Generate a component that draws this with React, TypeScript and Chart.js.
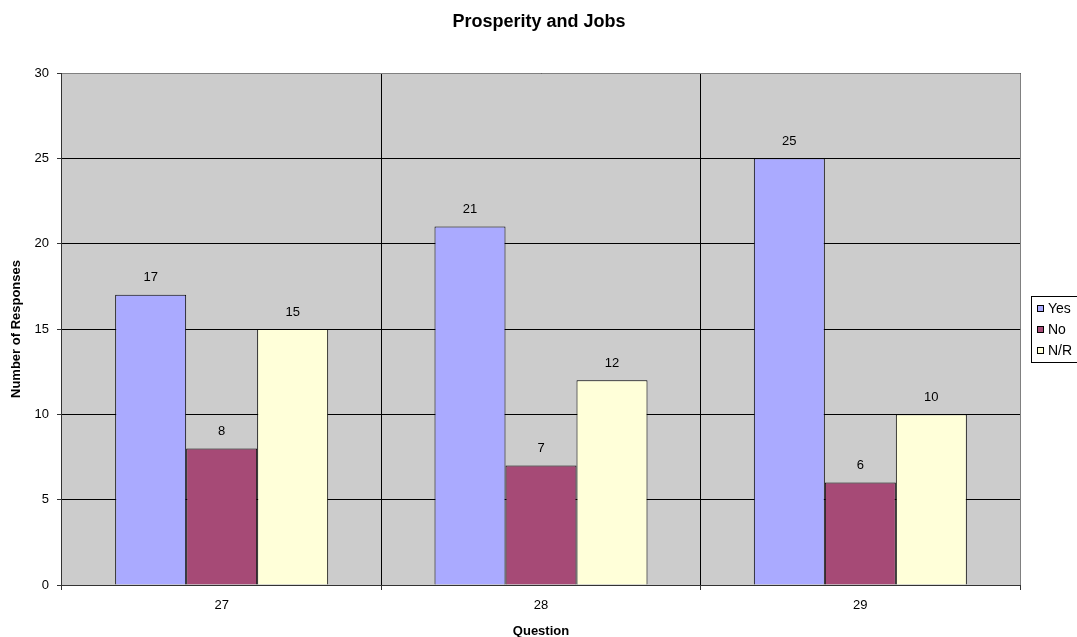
import React, { useEffect, useRef } from "react";
import { Chart, registerables } from "chart.js";

Chart.register(...registerables);

const categories = ["27", "28", "29"];
const yesValues = [17, 21, 25];
const noValues = [8, 7, 6];
const nrValues = [15, 12, 10];
const seriesNames = ["Yes", "No", "N/R"];
const seriesColors = ["#AAAAFF", "#A64A76", "#FFFFD9"];

const FONT = "'Liberation Sans', Arial, sans-serif";

const decorPlugin = {
  id: "decor",
  beforeDraw(chart: any) {
    const { ctx, chartArea } = chart;
    ctx.save();
    ctx.fillStyle = "#CCCCCC";
    ctx.fillRect(chartArea.left, chartArea.top, chartArea.right - chartArea.left, chartArea.bottom - chartArea.top);
    ctx.restore();
  },
  afterDraw(chart: any) {
    const { ctx, chartArea } = chart;
    ctx.save();
    // plot border
    ctx.strokeStyle = "#808080";
    ctx.lineWidth = 1;
    ctx.beginPath();
    ctx.moveTo(chartArea.left, chartArea.top + 0.5);
    ctx.lineTo(chartArea.right + 0.5, chartArea.top + 0.5);
    ctx.lineTo(chartArea.right + 0.5, chartArea.bottom);
    ctx.stroke();
    ctx.strokeStyle = "#333333";
    ctx.beginPath();
    ctx.moveTo(chartArea.left - 0.5, chartArea.top);
    ctx.lineTo(chartArea.left - 0.5, chartArea.bottom + 0.5);
    ctx.lineTo(chartArea.right + 0.5, chartArea.bottom + 0.5);
    ctx.stroke();

    // data labels
    ctx.fillStyle = "#000";
    ctx.font = `13px ${FONT}`;
    ctx.textAlign = "center";
    ctx.textBaseline = "middle";
    chart.data.datasets.forEach((ds: any, di: number) => {
      const meta = chart.getDatasetMeta(di);
      meta.data.forEach((bar: any, i: number) => {
        ctx.fillText(String(ds.data[i]), bar.x, bar.y - 17);
      });
    });

    // title
    ctx.font = `bold 18px ${FONT}`;
    ctx.fillText("Prosperity and Jobs", 539, 22);

    // legend
    const lx = 1031;
    const ly = 296;
    ctx.fillStyle = "#FFFFFF";
    ctx.fillRect(lx, ly, 60, 66);
    ctx.strokeStyle = "#000";
    ctx.strokeRect(lx + 0.5, ly + 0.5, 60, 66);
    ctx.font = `14px ${FONT}`;
    ctx.textAlign = "left";
    seriesNames.forEach((name, i) => {
      const cy = 308 + i * 21;
      ctx.fillStyle = seriesColors[i];
      ctx.fillRect(1037, cy - 3, 7, 7);
      ctx.strokeStyle = "#000";
      ctx.strokeRect(1037.5, cy - 3 + 0.5, 6, 6);
      ctx.fillStyle = "#000";
      ctx.fillText(name, 1048, cy + 1);
    });
    ctx.restore();
  },
};

export default function App() {
  const ref = useRef<HTMLCanvasElement>(null);
  useEffect(() => {
    const chart = new Chart(ref.current!, {
      type: "bar",
      data: {
        labels: categories,
        datasets: [
          { label: seriesNames[0], data: yesValues, backgroundColor: seriesColors[0], borderColor: "#000", borderWidth: 1 },
          { label: seriesNames[1], data: noValues, backgroundColor: seriesColors[1], borderColor: "#000", borderWidth: 1 },
          { label: seriesNames[2], data: nrValues, backgroundColor: seriesColors[2], borderColor: "#000", borderWidth: 1 },
        ],
      },
      options: {
        animation: false,
        responsive: false,
        devicePixelRatio: 1,
        layout: { padding: { top: 73, right: 57, left: 0, bottom: 0 } },
        datasets: { bar: { categoryPercentage: 0.667, barPercentage: 1 } },
        plugins: { legend: { display: false }, title: { display: false }, tooltip: { enabled: false } },
        scales: {
          x: {
            afterFit: (s: any) => { s.height = 52; },
            grid: {
              offset: true,
              color: (c: any) => (c.index === 0 || c.index === 3 ? "rgba(0,0,0,0)" : "#000"),
              tickLength: 5,
              tickColor: "#333",
              drawTicks: true,
            },
            border: { display: false },
            ticks: { color: "#000", font: { family: FONT, size: 13 }, padding: 8 },
            title: { display: true, text: "Question", color: "#000", font: { family: FONT, size: 13, weight: "bold" }, padding: { top: 4, bottom: -2 } },
          },
          y: {
            min: 0,
            max: 30,
            afterFit: (s: any) => { s.width = 62; },
            ticks: { stepSize: 5, color: "#000", font: { family: FONT, size: 13 }, padding: 8 },
            grid: {
              color: (c: any) => (c.index === 0 ? "rgba(0,0,0,0)" : "#000"),
              tickLength: 5,
              tickColor: "#333",
            },
            border: { display: false },
            title: { display: true, text: "Number of Responses", color: "#000", font: { family: FONT, size: 13, weight: "bold" }, padding: { top: 9, bottom: 0 } },
          },
        },
      },
      plugins: [decorPlugin],
    } as any);
    return () => chart.destroy();
  }, []);
  return (
    <div style={{ position: "absolute", left: 0, top: 0, width: 1077, height: 637 }}>
      <canvas ref={ref} width={1077} height={637} style={{ width: 1077, height: 637 }} />
    </div>
  );
}
